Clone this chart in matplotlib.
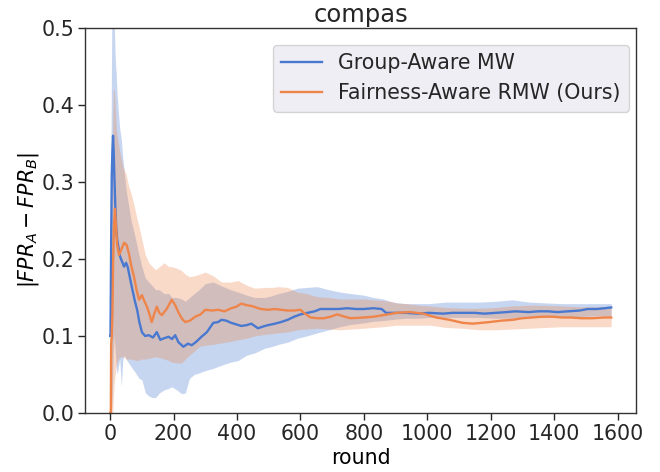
import matplotlib
matplotlib.use("Agg")
import matplotlib.pyplot as plt

# ── Data (round -> |FPR_A - FPR_B|) ───────────────────────────────────────
blue_rounds = [0, 1, 3, 5, 7, 9, 11, 13, 16, 19, 22, 26, 30, 34, 38, 44, 50, 55,
               60, 65, 70, 78, 85, 92, 100, 110, 122, 135, 147, 158, 170, 184,
               195, 205, 215, 231, 245, 257, 270, 288, 305, 325, 340, 351, 365,
               382, 398, 413, 430, 445, 466, 480, 497, 520, 538, 560, 580, 600,
               622, 645, 663, 695, 720, 747, 775, 800, 830, 856, 870, 900, 934,
               970, 1006, 1050, 1080, 1112, 1150, 1180, 1216, 1250, 1278, 1320,
               1350, 1381, 1410, 1444, 1480, 1506, 1535, 1559, 1580]
blue_mean = [0.10, 0.10, 0.22, 0.31, 0.34, 0.36, 0.34, 0.31, 0.27, 0.24, 0.225,
             0.215, 0.205, 0.20, 0.196, 0.19, 0.195, 0.19, 0.18, 0.17, 0.16,
             0.145, 0.134, 0.118, 0.105, 0.10, 0.101, 0.098, 0.105, 0.095,
             0.097, 0.099, 0.096, 0.101, 0.092, 0.086, 0.09, 0.088, 0.092,
             0.099, 0.105, 0.117, 0.118, 0.121, 0.12, 0.117, 0.115, 0.113,
             0.114, 0.116, 0.110, 0.112, 0.114, 0.116, 0.118, 0.121, 0.125,
             0.128, 0.130, 0.132, 0.135, 0.135, 0.135, 0.136, 0.135, 0.135,
             0.136, 0.135, 0.130, 0.130, 0.130, 0.129, 0.130, 0.129, 0.130,
             0.130, 0.130, 0.129, 0.130, 0.131, 0.132, 0.131, 0.132, 0.132,
             0.131, 0.132, 0.133, 0.135, 0.135, 0.136, 0.137]

orange_rounds = [0, 2, 3, 5, 7, 9, 12, 15, 18, 22, 28, 35, 44, 52, 59, 67, 75,
                 83, 91, 100, 108, 116, 124, 131, 140, 147, 155, 163, 178, 194,
                 205, 216, 227, 237, 252, 268, 285, 300, 320, 341, 360, 382,
                 398, 413, 430, 445, 460, 475, 500, 518, 540, 560, 580, 600,
                 611, 632, 655, 674, 695, 716, 740, 758, 800, 830, 861, 903,
                 945, 987, 1028, 1070, 1112, 1143, 1170, 1195, 1237, 1270, 1299,
                 1330, 1362, 1395, 1424, 1455, 1486, 1520, 1559, 1580]
orange_mean = [0.0, 0.0, 0.09, 0.10, 0.13, 0.19, 0.245, 0.265, 0.245, 0.218,
               0.205, 0.212, 0.221, 0.218, 0.207, 0.19, 0.177, 0.16, 0.147,
               0.153, 0.145, 0.138, 0.128, 0.118, 0.13, 0.138, 0.13, 0.127,
               0.135, 0.147, 0.14, 0.130, 0.122, 0.118, 0.12, 0.125, 0.128,
               0.134, 0.133, 0.134, 0.132, 0.136, 0.138, 0.142, 0.14, 0.139,
               0.137, 0.135, 0.134, 0.135, 0.134, 0.133, 0.133, 0.134, 0.130,
               0.124, 0.123, 0.123, 0.125, 0.128, 0.125, 0.123, 0.124, 0.125,
               0.127, 0.130, 0.131, 0.129, 0.124, 0.121, 0.117, 0.116, 0.117,
               0.118, 0.120, 0.121, 0.123, 0.124, 0.125, 0.125, 0.124, 0.124,
               0.123, 0.123, 0.124, 0.124]

band_rounds = [0, 2, 4, 6, 8, 10, 13, 16, 19, 22, 26, 30, 35, 40, 45, 50, 58, 66,
               75, 83, 91, 100, 111, 122, 133, 143, 155, 170, 185, 194, 210,
               225, 237, 250, 265, 280, 300, 325, 351, 380, 403, 430, 456, 487,
               508, 530, 560, 590, 620, 653, 690, 725, 760, 800, 830, 861, 882,
               903, 934, 970, 1006, 1060, 1112, 1164, 1216, 1268, 1320, 1370,
               1424, 1480, 1530, 1580]
blue_hi = [0.10, 0.30, 0.45, 0.55, 0.55, 0.55, 0.50, 0.46, 0.44, 0.413, 0.39,
           0.37, 0.355, 0.33, 0.31, 0.29, 0.27, 0.25, 0.235, 0.22, 0.205, 0.19,
           0.175, 0.17, 0.165, 0.16, 0.16, 0.155, 0.155, 0.15, 0.15, 0.148,
           0.145, 0.15, 0.155, 0.16, 0.168, 0.17, 0.165, 0.16, 0.157, 0.153,
           0.15, 0.15, 0.152, 0.155, 0.158, 0.162, 0.163, 0.164, 0.16, 0.157,
           0.155, 0.153, 0.15, 0.148, 0.145, 0.143, 0.142, 0.142, 0.142, 0.144,
           0.144, 0.144, 0.145, 0.147, 0.144, 0.143, 0.142, 0.142, 0.142, 0.142]
blue_lo = [0.0, 0.0, 0.0, 0.02, 0.05, 0.08, 0.10, 0.08, 0.06, 0.05, 0.06, 0.07,
           0.035, 0.07, 0.075, 0.07, 0.065, 0.06, 0.055, 0.05, 0.045, 0.043,
           0.026, 0.022, 0.02, 0.02, 0.026, 0.03, 0.032, 0.034, 0.03, 0.025,
           0.026, 0.045, 0.05, 0.052, 0.055, 0.058, 0.062, 0.066, 0.068, 0.075,
           0.078, 0.084, 0.086, 0.089, 0.092, 0.097, 0.10, 0.104, 0.108, 0.112,
           0.115, 0.117, 0.119, 0.12, 0.121, 0.122, 0.123, 0.123, 0.124, 0.124,
           0.124, 0.124, 0.123, 0.123, 0.124, 0.124, 0.125, 0.125, 0.126, 0.126]
orange_hi = [0.0, 0.05, 0.20, 0.30, 0.38, 0.42, 0.42, 0.40, 0.37, 0.36, 0.35,
             0.34, 0.33, 0.32, 0.315, 0.31, 0.295, 0.285, 0.27, 0.255, 0.242,
             0.225, 0.205, 0.195, 0.19, 0.186, 0.19, 0.195, 0.19, 0.19, 0.188,
             0.185, 0.18, 0.177, 0.178, 0.18, 0.183, 0.178, 0.17, 0.17, 0.172,
             0.166, 0.162, 0.163, 0.163, 0.164, 0.163, 0.157, 0.155, 0.151,
             0.15, 0.148, 0.148, 0.148, 0.147, 0.146, 0.145, 0.143, 0.142,
             0.14, 0.139, 0.137, 0.136, 0.136, 0.137, 0.139, 0.14, 0.14, 0.139,
             0.138, 0.138, 0.138]
orange_lo = [0.0, 0.0, 0.0, 0.0, 0.0, 0.02, 0.04, 0.05, 0.06, 0.065, 0.07,
             0.072, 0.073, 0.073, 0.072, 0.07, 0.07, 0.07, 0.069, 0.068, 0.069,
             0.07, 0.07, 0.071, 0.072, 0.073, 0.072, 0.07, 0.068, 0.066, 0.065,
             0.065, 0.07, 0.075, 0.08, 0.086, 0.088, 0.089, 0.091, 0.093, 0.095,
             0.097, 0.10, 0.102, 0.103, 0.104, 0.105, 0.108, 0.109, 0.11, 0.109,
             0.108, 0.109, 0.11, 0.111, 0.112, 0.113, 0.114, 0.114, 0.114,
             0.114, 0.111, 0.11, 0.108, 0.108, 0.109, 0.11, 0.111, 0.112, 0.112,
             0.112, 0.112]

labels = ["Group-Aware MW", "Fairness-Aware RMW (Ours)"]
BLUE = "#4878d0"
ORANGE = "#ee854a"

# ── Figure ────────────────────────────────────────────────────────────────
FS = 14.8
plt.rcParams["font.family"] = "DejaVu Sans"
plt.rcParams["font.size"] = FS
plt.rcParams["text.color"] = "#262626"

fig = plt.figure(figsize=(6.6, 4.72), dpi=100)
ax = fig.add_axes([0.129, 0.125, 0.835, 0.816])

ax.fill_between(band_rounds, blue_lo, blue_hi, color=BLUE, alpha=0.3, lw=0)
ax.fill_between(band_rounds, orange_lo, orange_hi, color=ORANGE, alpha=0.3, lw=0)
ax.plot(blue_rounds, blue_mean, color=BLUE, lw=1.7, label=labels[0])
ax.plot(orange_rounds, orange_mean, color=ORANGE, lw=1.7, label=labels[1])

ax.set_ylim(0, 0.5)
ax.set_xlim(-79, 1659)
ax.set_xticks(range(0, 1601, 200))
ax.set_yticks([0.0, 0.1, 0.2, 0.3, 0.4, 0.5])
ax.tick_params(labelsize=FS, length=5, width=1, colors="#262626", pad=3)
for s in ax.spines.values():
    s.set_color("#333333")
    s.set_linewidth(1.0)

ax.set_title("compas", fontsize=17.5, pad=4)
ax.set_xlabel("round", fontsize=FS, labelpad=3)
ax.set_ylabel(r"$|FPR_A - FPR_B|$", fontsize=FS, labelpad=0)

# legend box sits a bit below the top spine, as in the reference
leg = ax.legend(loc="upper right", bbox_to_anchor=(0.987, 0.956),
                borderaxespad=0, fontsize=FS, facecolor="#EAEAF2",
                framealpha=0.8, edgecolor="#cccccc", fancybox=True)

fig.savefig("out.png", dpi=100)
